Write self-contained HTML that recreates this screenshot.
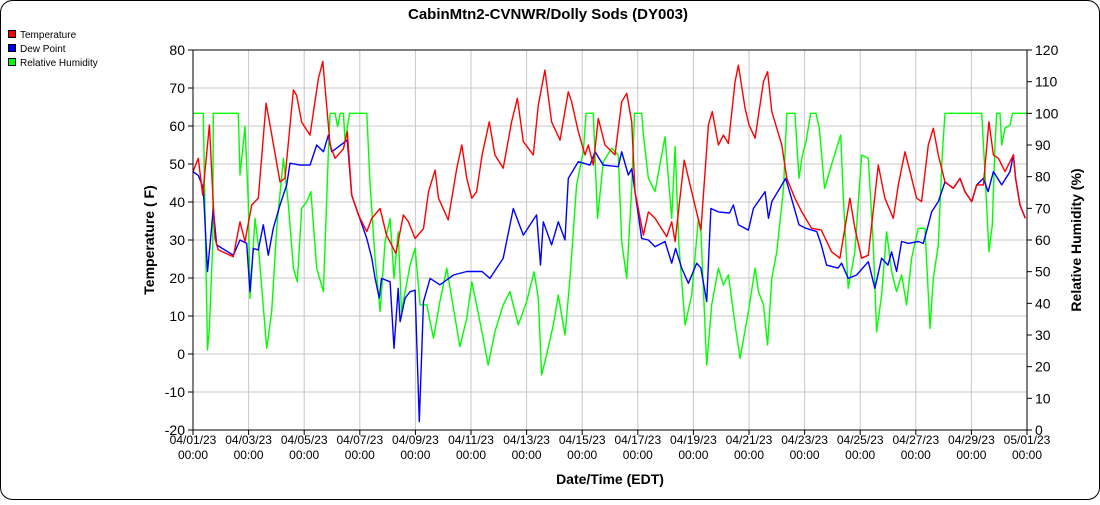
<!DOCTYPE html>
<html><head><meta charset="utf-8"><style>
body{margin:0;background:#fff;font-family:"Liberation Sans",sans-serif}
svg text{font-family:"Liberation Sans",sans-serif}
</style></head><body>
<svg id="c" width="1100" height="500" xmlns="http://www.w3.org/2000/svg">
<rect x="0.5" y="0.5" width="1099" height="499" rx="12" fill="#fff" stroke="#000"/>
<text x="548" y="19" text-anchor="middle" font-size="15" font-weight="bold">CabinMtn2-CVNWR/Dolly Sods (DY003)</text>
<g>
<g><rect x="8.5" y="30.5" width="7" height="7" fill="#f00" stroke="#000"/><text x="20" y="38" font-size="10">Temperature</text></g>
<g><rect x="8.5" y="44.5" width="7" height="7" fill="#00f" stroke="#000"/><text x="20" y="52" font-size="10">Dew Point</text></g>
<g><rect x="8.5" y="58.5" width="7" height="7" fill="#0f0" stroke="#000"/><text x="20" y="66" font-size="10">Relative Humidity</text></g>
</g>
<g id="grid"></g>
<g id="series"></g>
<g id="axes"></g>
<text transform="translate(154,240) rotate(-90)" text-anchor="middle" font-size="14" font-weight="bold">Temperature ( F)</text>
<text transform="translate(1081,240) rotate(-90)" text-anchor="middle" font-size="14" font-weight="bold">Relative Humidity (%)</text>
<text x="610" y="484" text-anchor="middle" font-size="14" font-weight="bold">Date/Time (EDT)</text>
</svg>
<script>
const xTickLabels=["04/01/23","04/03/23","04/05/23","04/07/23","04/09/23","04/11/23","04/13/23","04/15/23","04/17/23","04/19/23","04/21/23","04/23/23","04/25/23","04/27/23","04/29/23","05/01/23"];
const leftTicks=[80,70,60,50,40,30,20,10,0,-10,-20];
const rightTicks=[120,110,100,90,80,70,60,50,40,30,20,10,0];
const tempDays=[0,0.19,0.35,0.59,0.79,0.91,1.45,1.69,1.87,2.11,2.35,2.63,2.77,3.13,3.31,3.61,3.73,3.91,4.21,4.51,4.67,4.93,5.11,5.41,5.55,5.71,5.95,6.25,6.43,6.73,6.96,7.3,7.57,7.75,7.99,8.29,8.47,8.71,8.83,9.18,9.49,9.67,9.85,10.03,10.2,10.4,10.66,10.86,11.16,11.46,11.67,11.88,12.24,12.42,12.66,12.9,13.2,13.5,13.62,13.86,14.1,14.22,14.4,14.58,14.82,15.18,15.42,15.6,15.78,15.9,16.2,16.38,16.62,17.04,17.22,17.34,17.67,17.94,18.27,18.54,18.68,18.9,19.08,19.26,19.5,19.62,19.86,20,20.22,20.52,20.67,20.82,21.18,21.36,21.65,21.9,22.25,22.6,22.97,23.27,23.63,23.81,24.05,24.29,24.65,24.89,25.19,25.37,25.61,25.79,26.03,26.21,26.45,26.63,26.81,27.05,27.35,27.59,27.77,28.01,28.19,28.43,28.63,28.79,28.97,29.21,29.51,29.59,29.75,29.94];
const tempVals=[48,51.5,41.8,60.3,30.4,27.4,25.6,34.8,29.6,39.2,41,66,60.3,45.3,46.3,69.5,68,61,57.6,72.5,77,55,51.5,54,58.5,41.8,36.6,32.2,35.7,38.3,31.3,26.5,36.6,34.8,30.4,33,42.7,48.4,41,35.3,48.9,55,46.2,41,42.7,52.4,61.1,52.4,48.9,61.1,67.3,55.9,52.4,65.5,74.7,61.1,56.3,69,66.4,58.5,52.4,55,49.7,62,55,52.4,66.4,68.6,61.1,42.7,31.3,37.4,35.7,30.9,34.8,29.6,51,42.7,32.6,60.3,63.8,55,57.6,55.4,71.7,76,64.6,60.3,56.8,71.7,74.3,63.8,55,46.2,41,37.4,33.1,32.6,26.9,25.2,41,33.1,25.2,26,49.7,41,35.7,44.5,53.2,48,41,40.1,55,59.4,52.4,45.3,43.6,46.2,42.7,40.1,44.5,44.5,61.1,52.4,51.5,48,52.4,46.2,39.2,35.7];
const dewDays=[0,0.19,0.37,0.52,0.61,0.73,0.85,1.45,1.69,1.93,2.05,2.17,2.35,2.53,2.71,2.89,3.13,3.37,3.49,3.85,4.21,4.45,4.69,4.87,4.99,5.55,5.71,6.25,6.43,6.55,6.7,6.78,7.09,7.23,7.38,7.45,7.63,7.81,7.99,8.14,8.29,8.53,8.88,9.37,9.85,10.4,10.68,11.16,11.52,11.88,12.36,12.5,12.6,12.9,13.14,13.38,13.5,13.86,14.28,14.46,14.76,15.3,15.42,15.66,15.78,15.9,16.14,16.38,16.62,16.98,17.22,17.36,17.58,17.82,18.12,18.27,18.48,18.63,18.9,19.3,19.44,19.62,19.98,20.16,20.58,20.7,20.82,21.18,21.32,21.56,21.8,22.04,22.44,22.6,22.79,23.2,23.33,23.57,23.87,24.29,24.53,24.77,25,25.13,25.31,25.49,25.73,26.09,26.27,26.45,26.57,26.81,27.05,27.35,27.59,27.77,28.01,28.19,28.43,28.6,28.79,29.09,29.39,29.51,29.59,29.75,29.94];
const dewVals=[48,47,43.6,21.7,28.7,38.3,28.7,26,30,29.1,16.4,27.8,27.4,34,26,33.1,39.2,44.5,50.2,49.7,49.7,55,53.2,57.6,53.2,56.3,41.8,30.4,25.2,19.9,14.7,19.9,19,1.5,17.3,8.5,14.7,16.4,16.8,-17.8,13.8,19.9,18.2,20.8,21.7,21.7,19.9,25.2,38.3,31.3,36.6,23.4,34.8,28.7,34.8,30,46.2,50.6,49.7,53.2,49.7,49.3,53.2,47.1,48.7,42.7,30.4,30,28.2,29.6,23.9,27.8,22.6,18.6,23.9,22.6,13.8,38.3,37.4,37.1,39.2,34,32.6,38.3,42.7,35.7,40.1,44.5,46.2,40.1,34,33.1,32.2,28.7,23.4,22.6,23.9,19.9,20.8,24.3,17.3,25.2,23.4,26.9,21.7,29.6,29.1,29.6,29.1,34,37.4,40.1,45.3,43.6,46.2,42.7,40.1,44.5,46.2,42.7,48,44.5,48,52.4,46.2,39.2,35.7];
const rhDays=[0,0.37,0.43,0.52,0.59,0.71,0.73,1.63,1.69,1.87,1.99,2.05,2.23,2.35,2.65,2.83,3.01,3.25,3.43,3.61,3.75,3.91,4.09,4.24,4.45,4.69,4.87,4.93,5.11,5.2,5.3,5.41,5.47,5.63,6.25,6.37,6.55,6.73,6.91,7.09,7.23,7.38,7.5,7.81,7.99,8.17,8.41,8.65,8.88,9.13,9.37,9.6,9.85,10.03,10.2,10.44,10.62,10.86,11.16,11.4,11.7,12,12.27,12.42,12.54,12.72,12.96,13.14,13.38,13.56,13.8,14.04,14.14,14.4,14.55,14.76,15.06,15.3,15.42,15.6,15.78,15.88,16.14,16.2,16.38,16.62,16.98,17.22,17.34,17.48,17.7,17.94,18.18,18.27,18.48,18.66,18.9,19.08,19.26,19.5,19.68,19.98,20.22,20.34,20.52,20.67,20.82,21,21.24,21.36,21.65,21.8,21.92,22.05,22.22,22.41,22.53,22.72,23,23.3,23.39,23.57,23.81,24.05,24.29,24.47,24.59,24.77,24.95,25.13,25.31,25.49,25.67,25.85,26.09,26.33,26.51,26.63,26.81,26.95,27.05,28.37,28.5,28.63,28.75,28.85,28.91,29.03,29.09,29.21,29.39,29.48,30];
const rhVals=[100,100,69,25.3,32.1,58.4,100,100,80.5,95.8,72.1,41.6,66.8,58.4,25.8,37.4,63.7,85.8,71.1,51.1,46.8,70,72.1,75.3,51.1,43.7,87.9,100,100,95.8,100,100,91,100,100,77.4,54.2,37.4,59.5,66.8,47.9,62.6,37.4,52.1,57.4,39.5,39.5,29,40.5,51.1,38.4,26.3,35.3,46.8,39.5,29,20.5,31,39.5,43.7,33.2,40.5,50,41.6,17.4,23.7,33.2,42.6,30,47.9,77.4,87.9,100,100,66.8,84.7,89,86.8,59.5,47.9,76.3,100,100,93.2,79.5,75.3,92.6,66.8,89.5,58.4,33.2,42.6,66.8,62.6,20.5,39.5,51.1,45.8,49,33.2,22.6,37.4,51.1,43.7,39.5,26.8,47.9,56.3,76.3,100,100,79.5,86.8,91,100,100,95.3,76.3,84.7,93.2,74.2,44.7,56.3,86.8,85.8,58.4,31,42.6,62.6,50,43.7,49,39.5,54.2,63.7,63.7,32.1,47.9,58.4,86.8,100,100,79.5,56.3,64.7,90,100,100,90,95.3,96.3,100,100];

const X0=193,X1=1027,Y0=50,Y1=430,NS="http://www.w3.org/2000/svg";
const xs=d=>X0+(X1-X0)*d/30;
const yT=v=>Y1-(v+20)*(Y1-Y0)/100;
const yH=v=>Y1-v*(Y1-Y0)/120;
function mk(tag,attrs,parent){const e=document.createElementNS(NS,tag);for(const k in attrs)e.setAttribute(k,attrs[k]);parent.appendChild(e);return e;}
const grid=document.getElementById('grid'),axes=document.getElementById('axes'),ser=document.getElementById('series');
xTickLabels.forEach((lab,i)=>{
  const x=xs(i*2);
  const gl=mk('line',{x1:x,x2:x,y1:Y0,y2:Y1,stroke:'#c8c8c8'},grid);
  
  
  const tk=mk('line',{x1:x,x2:x,y1:Y1,y2:Y1+5,stroke:'#000'},axes);
  
  
  const t=mk('text',{x:x,y:444,'text-anchor':'middle','font-size':12},axes);
  
  
  mk('tspan',{x:x,dy:0},t).textContent=lab;
  mk('tspan',{x:x,dy:15},t).textContent='00:00';
});
leftTicks.forEach(v=>{
  const y=yT(v);
  const gl=mk('line',{x1:X0,x2:X1,y1:y,y2:y,stroke:'#c8c8c8'},grid);
  
  
  const tk=mk('line',{x1:X0-5,x2:X0,y1:y,y2:y,stroke:'#000'},axes);
  
  
  const t=mk('text',{x:X0-8,y:y+5,'text-anchor':'end','font-size':14},axes);
  
  
  t.textContent=v;
});
rightTicks.forEach(v=>{
  const y=yH(v);
  const tk=mk('line',{x1:X1,x2:X1+5,y1:y,y2:y,stroke:'#000'},axes);
  
  
  const t=mk('text',{x:X1+8,y:y+5,'text-anchor':'start','font-size':14},axes);
  
  
  t.textContent=v;
});
const frame=mk('rect',{x:X0,y:Y0,width:X1-X0,height:Y1-Y0,fill:'none',stroke:'#000'},axes);


function line(days,vals,yf,color,name){
  const p=days.map((d,i)=>xs(d).toFixed(1)+','+yf(vals[i]).toFixed(1)).join(' ');
  const l=mk('polyline',{points:p,fill:'none',stroke:color,'stroke-width':1.4,'stroke-linejoin':'round'},ser);
  
  
}
line(rhDays,rhVals,yH,'#00ff00','relative-humidity-line');
line(dewDays,dewVals,yT,'#0000ff','dew-point-line');
line(tempDays,tempVals,yT,'#ff0000','temperature-line');
</script>
</body></html>
